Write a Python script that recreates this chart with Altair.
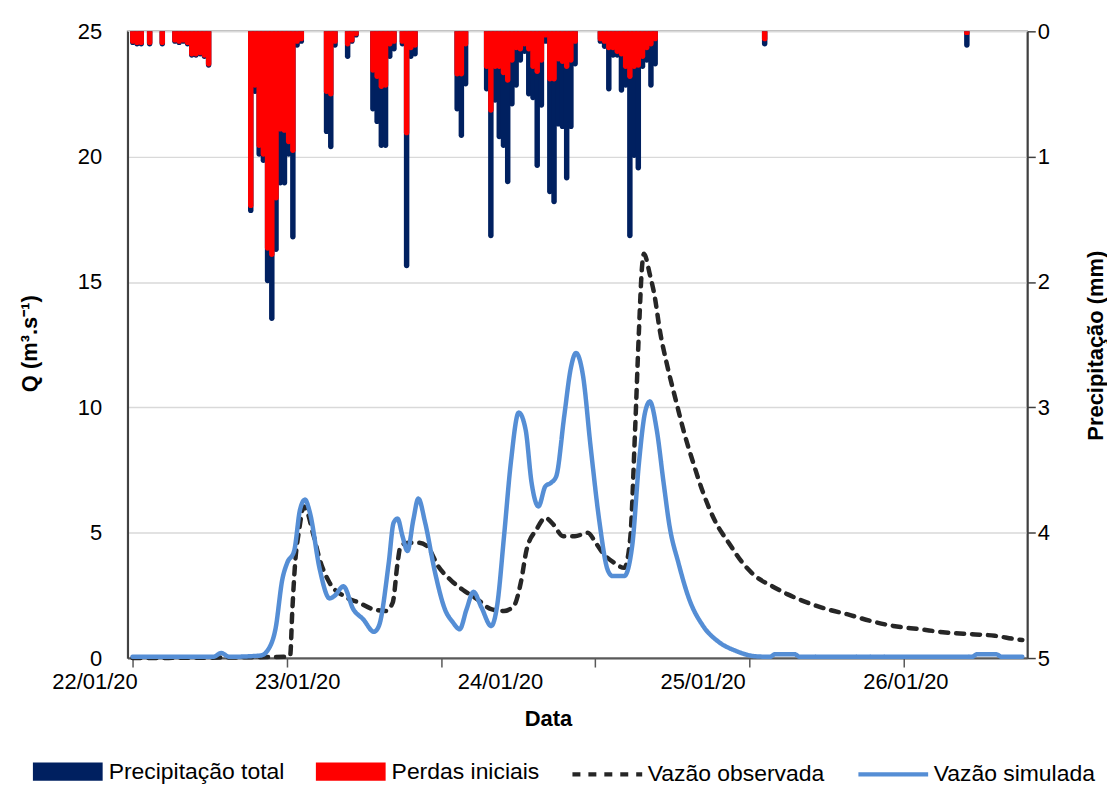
import json
import altair as alt
import pandas as pd

# ---------------- data (hours since 22/01/20 00:00) ----------------
x_start = 4.47
x_end = 110.08
tick_step = 18.306
date_labels = ["22/01/20", "23/01/20", "24/01/20", "25/01/20", "26/01/20"]
label_hours = [0, 24, 48, 72, 96]

precip_hours = [4.5, 5.0, 5.5, 6.5, 8.0, 9.5, 10.0, 10.5, 11.0, 11.5, 12.0, 12.5, 13.0, 13.5,
                18.5, 19.0, 19.5, 20.0, 20.5, 21.0, 21.5, 22.0, 22.5, 23.0, 23.5, 24.0, 24.5,
                27.5, 28.0, 28.5, 30.0, 30.5, 31.0,
                33.0, 33.5, 34.0, 34.5, 35.0, 35.5, 36.5, 37.0, 37.5, 38.0,
                43.0, 43.5, 44.0,
                46.5, 47.0, 47.5, 48.0, 48.5, 49.0, 49.5, 50.0, 50.5,
                51.0, 51.5, 52.0, 52.5, 53.0, 53.5,
                54.0, 54.5, 55.0, 55.5, 56.0, 56.5, 57.0,
                60.0, 60.5, 61.0, 61.5, 62.0, 62.5, 63.0, 63.5, 64.0, 64.5, 65.0, 65.5, 66.0, 66.5,
                79.5, 103.5]
precip_total = [0.11, 0.12, 0.12, 0.12, 0.12, 0.10, 0.11, 0.10, 0.12, 0.21, 0.21, 0.20, 0.22, 0.29,
                1.45, 0.50, 1.00, 1.05, 2.01, 2.31, 1.76, 1.23, 1.23, 1.00, 1.66, 0.13, 0.10,
                0.82, 0.94, 0.13, 0.22, 0.10, 0.05,
                0.64, 0.74, 0.93, 0.93, 0.22, 0.16, 0.12, 1.89, 0.22, 0.20,
                0.64, 0.85, 0.44,
                0.48, 1.65, 0.57, 0.86, 0.93, 1.22, 0.60, 0.45, 0.25,
                0.18, 0.52, 0.55, 1.09, 0.61, 0.10,
                1.30, 1.38, 0.76, 0.78, 1.19, 0.78, 0.28,
                0.10, 0.14, 0.48, 0.21, 0.21, 0.49, 0.45, 1.65, 1.01, 1.11, 0.30, 0.25, 0.45, 0.28,
                0.12, 0.13]
precip_loss = [0.10, 0.11, 0.11, 0.11, 0.11, 0.09, 0.10, 0.09, 0.11, 0.20, 0.20, 0.19, 0.21, 0.28,
               1.41, 0.45, 0.93, 1.00, 1.75, 1.80, 1.35, 0.80, 0.81, 0.90, 0.97, 0.10, 0.08,
               0.50, 0.52, 0.10, 0.12, 0.09, 0.04,
               0.33, 0.38, 0.46, 0.45, 0.12, 0.10, 0.10, 0.83, 0.15, 0.13,
               0.36, 0.36, 0.12,
               0.30, 0.65, 0.30, 0.30, 0.35, 0.41, 0.25, 0.15, 0.16,
               0.12, 0.16, 0.30, 0.34, 0.25, 0.05,
               0.40, 0.40, 0.24, 0.26, 0.30, 0.25, 0.10,
               0.08, 0.10, 0.15, 0.15, 0.18, 0.20, 0.30, 0.38, 0.30, 0.29, 0.22, 0.15, 0.12, 0.08,
               0.08, 0.03]

obs_hours = [4.47, 22.83, 23.18, 23.42, 23.77, 24.24, 24.82, 25.99, 26.69, 27.86, 29.5, 31.37,
             33.0, 34.53, 35.35, 35.93, 36.28, 37.22, 38.39, 39.44, 40.73, 42.36, 43.89, 45.4,
             47.04, 48.56, 49.73, 50.55, 51.25, 52.42, 53.47, 54.41, 55.58, 56.98, 58.5, 59.44,
             60.26, 61.65, 62.83, 63.53, 64.12, 64.58, 64.94, 65.17, 65.87, 66.46, 67.05, 67.87,
             69.04, 69.85, 71.02, 72.19, 73.71, 75.23, 76.87, 78.39, 80.37, 82.24, 84.58, 86.92,
             89.27, 92.07, 94.76, 97.92, 100.96, 104.12, 106.81, 109.15, 110.08]
obs_q = [0, 0.05, 0.1, 1.8, 3.8, 5.1, 6.05, 4.85, 3.93, 3.0, 2.48, 2.21,
         1.95, 1.88, 2.21, 3.8, 4.46, 4.6, 4.6, 4.46, 3.67, 3.07, 2.67, 2.34,
         1.95, 1.88, 2.08, 3.0, 4.33, 5.13, 5.59, 5.33, 4.86, 4.86, 5.0, 4.6,
         4.2, 3.8, 3.6, 4.73, 9.1, 13.08, 15.6, 16.13, 15.3, 14.4, 13.08, 11.76,
         10.17, 9.1, 7.79, 6.6, 5.4, 4.6, 3.8, 3.27, 2.87, 2.54, 2.21, 1.95,
         1.75, 1.48, 1.28, 1.15, 1.02, 0.95, 0.89, 0.76, 0.72]

sim_hours = [4.47, 14.06, 15.0, 15.93, 19.67, 20.84, 21.43, 22.25, 22.83, 23.65, 24.35, 24.94,
             25.52, 26.69, 27.86, 28.44, 29.5, 30.67, 31.84, 33.12, 33.71, 34.88, 35.46, 35.93,
             36.52, 37.1, 37.8, 38.39, 39.2, 40.37, 41.54, 42.48, 43.3, 44.12, 44.94, 45.87,
             47.04, 47.74, 48.56, 49.37, 50.31, 51.13, 51.83, 52.65, 53.47, 54.17, 54.76, 55.7,
             56.51, 57.1, 57.92, 58.85, 59.9, 60.84, 61.43, 62.83, 63.77, 64.58, 65.29, 65.87,
             66.69, 67.5, 68.21, 69.26, 70.55, 72.19, 74.06, 76.05, 78.39, 80.15, 80.73, 83.07,
             83.65, 104.1, 104.7, 107.0, 107.6, 110.08]
sim_q = [0.05, 0.05, 0.2, 0.05, 0.1, 0.5, 1.15, 3.14, 3.8, 4.27, 5.92, 6.32,
         5.8, 3.54, 2.38, 2.48, 2.86, 1.95, 1.55, 1.05, 1.28, 3.8, 5.4, 5.56,
         4.85, 4.27, 5.52, 6.36, 5.4, 3.42, 1.95, 1.43, 1.15, 1.95, 2.64, 2.03,
         1.28, 2.08, 4.85, 7.79, 9.79, 9.1, 7.0, 6.05, 6.85, 7.0, 7.25, 9.63,
         11.6, 12.17, 11.3, 8.4, 5.4, 3.54, 3.27, 3.27, 4.46, 7.79, 9.78, 10.23,
         9.1, 7.0, 5.26, 3.8, 2.34, 1.28, 0.64, 0.29, 0.07, 0.05, 0.15, 0.15,
         0.05, 0.05, 0.15, 0.15, 0.05, 0.05]

p_series = ["Precipitação total", "Perdas iniciais"]
p_colors = ["#002060", "#ff0000"]
q_series = ["Vazão observada", "Vazão simulada"]
q_colors = ["#262626", "#558ed5"]

# ---------------- tables ----------------
df_p = pd.concat([
    pd.DataFrame({"hora": precip_hours, "valor": precip_total, "serie": p_series[0], "ordem": 0}),
    pd.DataFrame({"hora": precip_hours, "valor": precip_loss, "serie": p_series[1], "ordem": 1}),
], ignore_index=True)
df_q = pd.concat([
    pd.DataFrame({"hora": obs_hours, "q": obs_q, "serie": q_series[0]}),
    pd.DataFrame({"hora": sim_hours, "q": sim_q, "serie": q_series[1]}),
], ignore_index=True)

# ---------------- layout ----------------
W, H = 903, 629
FONT = "Liberation Sans"
px_per_hour = W / (x_end - x_start)
tick_values = [round(x_start + i * tick_step, 3) for i in range(6)]
tick_text = date_labels + [""]
label_shift = [round((lh - tv) * px_per_hour, 1) for lh, tv in zip(label_hours, tick_values)] + [0]
idx = f"round((datum.value - {x_start}) / {tick_step})"

x_axis = alt.Axis(
    values=tick_values, labelExpr=f"{json.dumps(tick_text)}[{idx}]",
    labelOffset=alt.ExprRef(expr=f"{json.dumps(label_shift)}[{idx}]"),
    labelFlush=False, labelOverlap=False, labelBound=False, labelPadding=5,
    labelBaseline="top", tickSize=9, tickWidth=1.5, tickColor="#595959",
    domainColor="#595959", domainWidth=2, grid=False,
    title="Data", titleX=422, titleY=61, titleAlign="center", titleBaseline="middle",
)
x_enc = alt.X("hora:Q", scale=alt.Scale(domain=[x_start, x_end], nice=False, zero=False), axis=x_axis)

bars = alt.Chart(df_p).mark_bar(size=5.5, cornerRadiusBottomLeft=2.7, cornerRadiusBottomRight=2.7).encode(
    x=x_enc,
    y=alt.Y("valor:Q", stack=None,
            scale=alt.Scale(domain=[0, 5], reverse=True, nice=False, zero=True),
            axis=alt.Axis(orient="right", values=[0, 1, 2, 3, 4, 5], title="Precipitação (mm)",
                          titleAngle=270, titleX=68, titleY=315, titleAlign="center",
                          titleBaseline="middle", tickSize=8, tickWidth=1.5, tickColor="#404040",
                          labelPadding=2, grid=False, domainColor="#404040", domainWidth=2)),
    color=alt.Color("serie:N", scale=alt.Scale(domain=p_series, range=p_colors),
                    legend=alt.Legend(title=None, orient="none", legendX=-95, legendY=708,
                                      direction="horizontal", symbolType="M-1,-0.26H1V0.26H-1Z",
                                      symbolSize=4900, symbolStrokeWidth=0, symbolOpacity=1,
                                      labelFontSize=23, labelOffset=6, columnPadding=31,
                                      labelLimit=400, padding=0)),
    order=alt.Order("ordem:Q"),
)

line_legend = alt.Legend(title=None, orient="none", legendX=444, legendY=708,
                         direction="horizontal", symbolType="stroke", symbolSize=4900,
                         symbolStrokeWidth=4.5, labelFontSize=23, labelOffset=3,
                         columnPadding=24, labelLimit=400, padding=0)

lines = alt.Chart(df_q).mark_line(strokeWidth=4.5, interpolate="monotone", strokeCap="round").encode(
    x=x_enc,
    y=alt.Y("q:Q", scale=alt.Scale(domain=[0, 25], nice=False),
            axis=alt.Axis(orient="left", values=[0, 5, 10, 15, 20, 25], title="Q (m³.s⁻¹)",
                          titleAngle=270, titleX=-98, titleY=313, titleAlign="center",
                          titleBaseline="middle", ticks=False, labelPadding=26,
                          grid=True, gridColor="#d9d9d9", gridWidth=1.5,
                          domainColor="#404040", domainWidth=2)),
    stroke=alt.Stroke("serie:N", scale=alt.Scale(domain=q_series, range=q_colors), legend=line_legend),
    strokeDash=alt.StrokeDash("serie:N", scale=alt.Scale(domain=q_series, range=[[8, 8], [1, 0]]),
                              legend=line_legend),
)

chart = alt.layer(bars, lines).resolve_scale(y="independent").properties(
    width=W, height=H,
    autosize=alt.AutoSizeParams(type="none"),
    padding={"left": 120, "top": 22, "right": 80, "bottom": 129},
).configure(font=FONT).configure_view(
    stroke="#868686", strokeWidth=1.5
).configure_axis(
    labelFont=FONT, labelFontSize=22, labelColor="black",
    titleFont=FONT, titleFontSize=22, titleFontWeight="bold", titleColor="black",
).configure_legend(labelFont=FONT, labelColor="black")

chart.save("out.html", embed_options={"renderer": "svg", "actions": False})
